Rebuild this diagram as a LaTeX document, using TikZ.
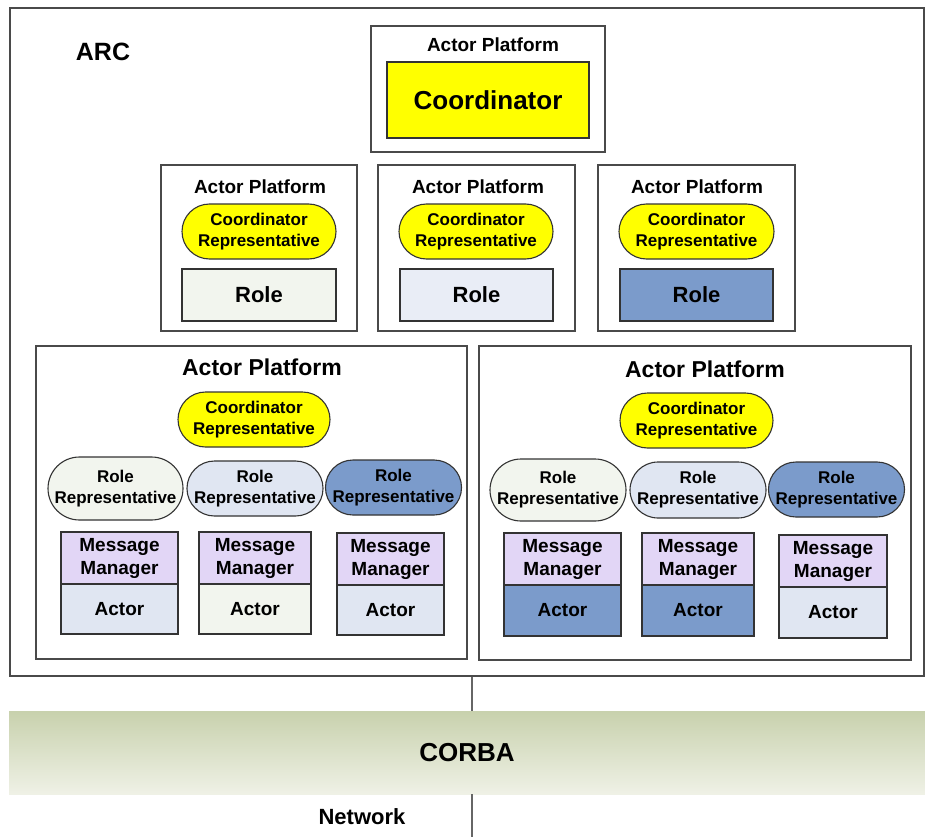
\documentclass[tikz,border=0pt]{standalone}
\usepackage{fontspec}
\setmainfont{Liberation Sans}
\usetikzlibrary{positioning,shapes.misc}

\definecolor{coordyellow}{HTML}{FFFF00}
\definecolor{paleground}{HTML}{F2F5EE}
\definecolor{paleblue}{HTML}{E0E6F2}
\definecolor{steelblue}{HTML}{7B9BCB}
\definecolor{lavender}{HTML}{E2D6F6}
\definecolor{corbatop}{HTML}{C8D1AD}
\definecolor{corbabot}{HTML}{EFF1E6}
\definecolor{framegray}{HTML}{4A4A4A}

\newcommand{\bfs}[2]{\bfseries\fontsize{#1}{#2}\selectfont}

\tikzset{
	platform/.style={draw=framegray, line width=1.3pt, fill=white, inner sep=0pt},
	plattitle/.style={inner sep=0pt, font=\bfs{19}{19}},
	rep/.style={rounded rectangle, draw=black!80, line width=1.1pt, inner sep=0pt,
		align=center, font=\bfs{17}{21}},
	unit/.style={rectangle, draw=black!80, line width=1.1pt, inner sep=0pt, outer sep=0pt,
		align=center, font=\bfs{19}{23}},
	link/.style={draw=black!60, line width=1.3pt}
}

\begin{document}
\begin{tikzpicture}[x=1pt,y=-1pt]
	\fill[white] (0,0) rectangle (925,837);
	\useasboundingbox (0,0) rectangle (925,837);

	% ARC frame
	\node[platform, minimum width=914, minimum height=668] (arc) at (467,342) {};
	\node[inner sep=0pt, font=\bfs{25}{25}] (arclabel) at (103,52) {ARC};

	% top platform with the coordinator
	\node[platform, minimum width=234, minimum height=126] (tp) at (488,89) {};
	\node[plattitle] (tptitle) at (493,45) {Actor Platform};
	\node[unit, fill=coordyellow, minimum width=202, minimum height=76, font=\bfs{26}{26}] (coord) at (488,100) {Coordinator};

	% middle row
	\node[platform, minimum width=196, minimum height=166] (mp1) at (259,248) {};
	\node[platform, minimum width=197, minimum height=166] (mp2) at (476.5,248) {};
	\node[platform, minimum width=197, minimum height=166] (mp3) at (696.5,248) {};
	\node[plattitle] (mptitle1) at (260,187) {Actor Platform};
	\node[plattitle] (mptitle2) at (478,187) {Actor Platform};
	\node[plattitle] (mptitle3) at (697,187) {Actor Platform};
	\node[rep, fill=coordyellow, minimum width=154, minimum height=55] (mpcr1) at (259,231.5) {Coordinator\\Representative};
	\node[rep, fill=coordyellow, minimum width=154, minimum height=55] (mpcr2) at (476,231.5) {Coordinator\\Representative};
	\node[rep, fill=coordyellow, minimum width=155, minimum height=55] (mpcr3) at (696.5,231.5) {Coordinator\\Representative};
	\node[unit, fill=paleground, minimum width=154, minimum height=52, font=\bfs{22}{22}] (role1) at (259,295) {Role};
	\node[unit, fill=paleblue!70, minimum width=153, minimum height=52, font=\bfs{22}{22}] (role2) at (476.5,295) {Role};
	\node[unit, fill=steelblue, minimum width=153, minimum height=52, font=\bfs{22}{22}] (role3) at (696.5,295) {Role};

	% bottom left platform
	\node[platform, minimum width=431, minimum height=313] (bl) at (251.5,502.5) {};
	\node[plattitle, font=\bfs{23}{23}] (bltitle) at (262,367) {Actor Platform};
	\node[rep, fill=coordyellow, minimum width=152, minimum height=55] (blcr) at (254,419.5) {Coordinator\\Representative};
	\node[rep, fill=paleground, minimum width=135, minimum height=63] (blrr1) at (115.5,488.5) {Role\\Representative};
	\node[rep, fill=paleblue, minimum width=136, minimum height=55] (blrr2) at (255,488.5) {Role\\Representative};
	\node[rep, fill=steelblue, minimum width=135, minimum height=55] (blrr3) at (393.5,487.5) {Role\\Representative};
	\node[unit, fill=lavender, minimum width=117, minimum height=52] (blmm1) at (119.5,558) {Message\\Manager};
	\node[unit, fill=lavender, minimum width=112, minimum height=52] (blmm2) at (255,558) {Message\\Manager};
	\node[unit, fill=lavender, minimum width=107, minimum height=52] (blmm3) at (390.5,559) {Message\\Manager};
	\node[unit, fill=paleblue, minimum width=117, minimum height=50, below=0pt of blmm1] (blact1) {Actor};
	\node[unit, fill=paleground, minimum width=112, minimum height=50, below=0pt of blmm2] (blact2) {Actor};
	\node[unit, fill=paleblue, minimum width=107, minimum height=50, below=0pt of blmm3] (blact3) {Actor};

	% bottom right platform
	\node[platform, minimum width=432, minimum height=314] (br) at (695,503) {};
	\node[plattitle, font=\bfs{23}{23}] (brtitle) at (705,369) {Actor Platform};
	\node[rep, fill=coordyellow, minimum width=153, minimum height=55] (brcr) at (696.5,420.5) {Coordinator\\Representative};
	\node[rep, fill=paleground, minimum width=136, minimum height=62] (brrr1) at (558,490) {Role\\Representative};
	\node[rep, fill=paleblue, minimum width=136, minimum height=56] (brrr2) at (698,490) {Role\\Representative};
	\node[rep, fill=steelblue, minimum width=135, minimum height=55] (brrr3) at (836.5,489.5) {Role\\Representative};
	\node[unit, fill=lavender, minimum width=117, minimum height=52] (brmm1) at (562.5,559) {Message\\Manager};
	\node[unit, fill=lavender, minimum width=112, minimum height=52] (brmm2) at (698,559) {Message\\Manager};
	\node[unit, fill=lavender, minimum width=108, minimum height=52] (brmm3) at (833,561) {Message\\Manager};
	\node[unit, fill=steelblue, minimum width=117, minimum height=51, below=0pt of brmm1] (bract1) {Actor};
	\node[unit, fill=steelblue, minimum width=112, minimum height=51, below=0pt of brmm2] (bract2) {Actor};
	\node[unit, fill=paleblue, minimum width=108, minimum height=51, below=0pt of brmm3] (bract3) {Actor};

	% CORBA layer and network
	\node[top color=corbatop, bottom color=corbabot, minimum width=916, minimum height=83,
		inner sep=0pt, font=\bfs{26}{26}] (corba) at (467,752.5) {CORBA};
	\node[inner sep=0pt, font=\bfs{22}{22}] (network) at (362,817) {Network};
	\coordinate (net) at (472,837);
	\draw[link] (arc.south -| net) -- (corba.north -| net);
	\draw[link] (corba.south -| net) -- (net);
\end{tikzpicture}
\end{document}
